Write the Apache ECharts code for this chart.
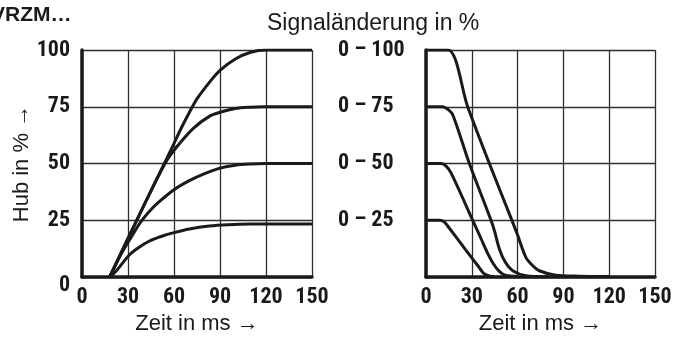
<!DOCTYPE html>
<html>
<head>
<meta charset="utf-8">
<script src="https://cdn.jsdelivr.net/npm/echarts@6/dist/echarts.min.js"></script>
<style>
html,body{margin:0;padding:0;background:#fff;}
#c{width:679px;height:340px;}
</style>
</head>
<body>
<div id="c"></div>
<script>
// ---- data ----
var xTicks = [0, 30, 60, 90, 120, 150];
var yTicks = [0, 25, 50, 75, 100];
var rightLabels = {100: '0 – 100', 75: '0 – 75', 50: '0 – 50', 25: '0 – 25'};

// Left: step response (Hub in %) over time (ms)
var up100 = [[18,0],[30,17],[45,38],[58,56],[65,66],[70,72.5],[75,78.5],[84,86.5],[90,91],[100,96],[110,99],[120,100],[150,100]];
var up75  = [[18,0],[30,17],[45,38],[55,51],[62,57.5],[72.6,65.5],[83.5,71],[90,72.6],[100,74.2],[110,74.8],[118,75],[150,75]];
var up50  = [[18,0],[25,9.5],[32,17.5],[38,24],[44,29],[50,33],[60,38.5],[70,42.5],[80,45.6],[90,48],[100,49.3],[110,49.8],[120,50],[150,50]];
var up25  = [[18,0],[22,2.5],[30.7,9.6],[37,13],[44,15.9],[52,18],[60,19.6],[70,21.2],[83,22.5],[95,23.1],[110,23.4],[150,23.4]];

// Right: closing response
var dn100 = [[0,100],[14.5,100],[27.3,75],[41.5,50],[56.3,25],[60,18.5],[65.5,8.6],[70,5],[74.2,2.8],[85,0.8],[100,0.4],[120,0.3]];
var dn75  = [[0,75],[11,75],[14,74],[17.5,71.5],[28.4,50],[42.6,25],[45,20],[48,12.5],[52,6.5],[56.8,2.8],[65.5,0.6],[80,0.2]];
var dn50  = [[0,50],[10,50],[13,49],[16.4,45.9],[30.6,25],[36,17],[40,11],[44,6],[48,2.5],[52,0.8],[60,0.3]];
var dn25  = [[0,25],[9,25],[12,24.3],[14.2,22.5],[26,12],[34,5],[38,1.5],[42,0.4],[45,0.2]];

var boldFont = "'Roboto Condensed', 'Open Sans Condensed', sans-serif";
var regFont = "'Liberation Sans', Arial, sans-serif";
var ink = '#1a1a1a';
var gridCol = '#2e2e2e';
var tickSize = 22;

function xAxisDef(gi) {
  return {
    type: 'value', gridIndex: gi, min: 0, max: 150, interval: 30,
    name: 'Zeit in ms →', nameLocation: 'middle', nameGap: 33,
    nameTextStyle: {fontFamily: regFont, fontSize: 22, color: ink},
    axisLine: {show: true, onZero: false, lineStyle: {color: ink, width: 3.5}},
    axisTick: {show: false},
    axisLabel: {fontFamily: boldFont, fontWeight: 'bold', fontSize: tickSize, color: ink, margin: 9,
      formatter: function (v) { return xTicks.indexOf(v) >= 0 ? String(v) : ''; }},
    splitLine: {show: true, lineStyle: {color: gridCol, width: 1.3}}
  };
}

var option = {
  animation: false,
  backgroundColor: '#fff',
  title: [
    {text: 'VRZM…', left: -14, top: 0, textStyle: {fontFamily: regFont, fontWeight: 'bold', fontSize: 21, color: ink}},
    {text: 'Signaländerung in %', left: 262, top: 7, textStyle: {fontFamily: regFont, fontWeight: 'normal', fontSize: 23, color: ink}}
  ],
  grid: [
    {left: 82, top: 50, width: 230, height: 228},
    {left: 426, top: 50, width: 229, height: 228}
  ],
  xAxis: [xAxisDef(0), xAxisDef(1)],
  yAxis: [
    {
      type: 'value', gridIndex: 0, min: 0, max: 100, interval: 25,
      name: 'Hub in % →', nameLocation: 'middle', nameGap: 45, nameRotate: 90,
      nameTextStyle: {fontFamily: regFont, fontSize: 22, color: ink},
      axisLine: {show: true, onZero: false, lineStyle: {color: ink, width: 3.5}},
      axisTick: {show: false},
      axisLabel: {fontFamily: boldFont, fontWeight: 'bold', fontSize: tickSize, color: ink, margin: 12,
        formatter: function (v) { return v === 0 ? '{z|0}' : (yTicks.indexOf(v) >= 0 ? String(v) : ''); },
        rich: {z: {fontFamily: boldFont, fontWeight: 'bold', fontSize: tickSize, color: ink, padding: [16, 0, 0, 0]}}},
      splitLine: {show: true, lineStyle: {color: gridCol, width: 1.3}}
    },
    {
      type: 'value', gridIndex: 1, min: 0, max: 100, interval: 25,
      axisLine: {show: true, onZero: false, lineStyle: {color: ink, width: 3.5}},
      axisTick: {show: false},
      axisLabel: {fontFamily: boldFont, fontWeight: 'bold', fontSize: tickSize, color: ink, margin: 88, align: 'left',
        formatter: function (v) { return rightLabels[v] || ''; }},
      splitLine: {show: true, lineStyle: {color: gridCol, width: 1.3}}
    }
  ],
  series: []
};

function addLine(data, gi) {
  option.series.push({
    type: 'line', xAxisIndex: gi, yAxisIndex: gi, data: data,
    showSymbol: false, smooth: 0.3,
    lineStyle: {color: ink, width: 3}, z: 3
  });
}
[up100, up75, up50, up25].forEach(function (d) { addLine(d, 0); });
[dn100, dn75, dn50, dn25].forEach(function (d) { addLine(d, 1); });

var chart = echarts.init(document.getElementById('c'), null, {renderer: 'canvas'});
chart.setOption(option);
</script>
</body>
</html>
